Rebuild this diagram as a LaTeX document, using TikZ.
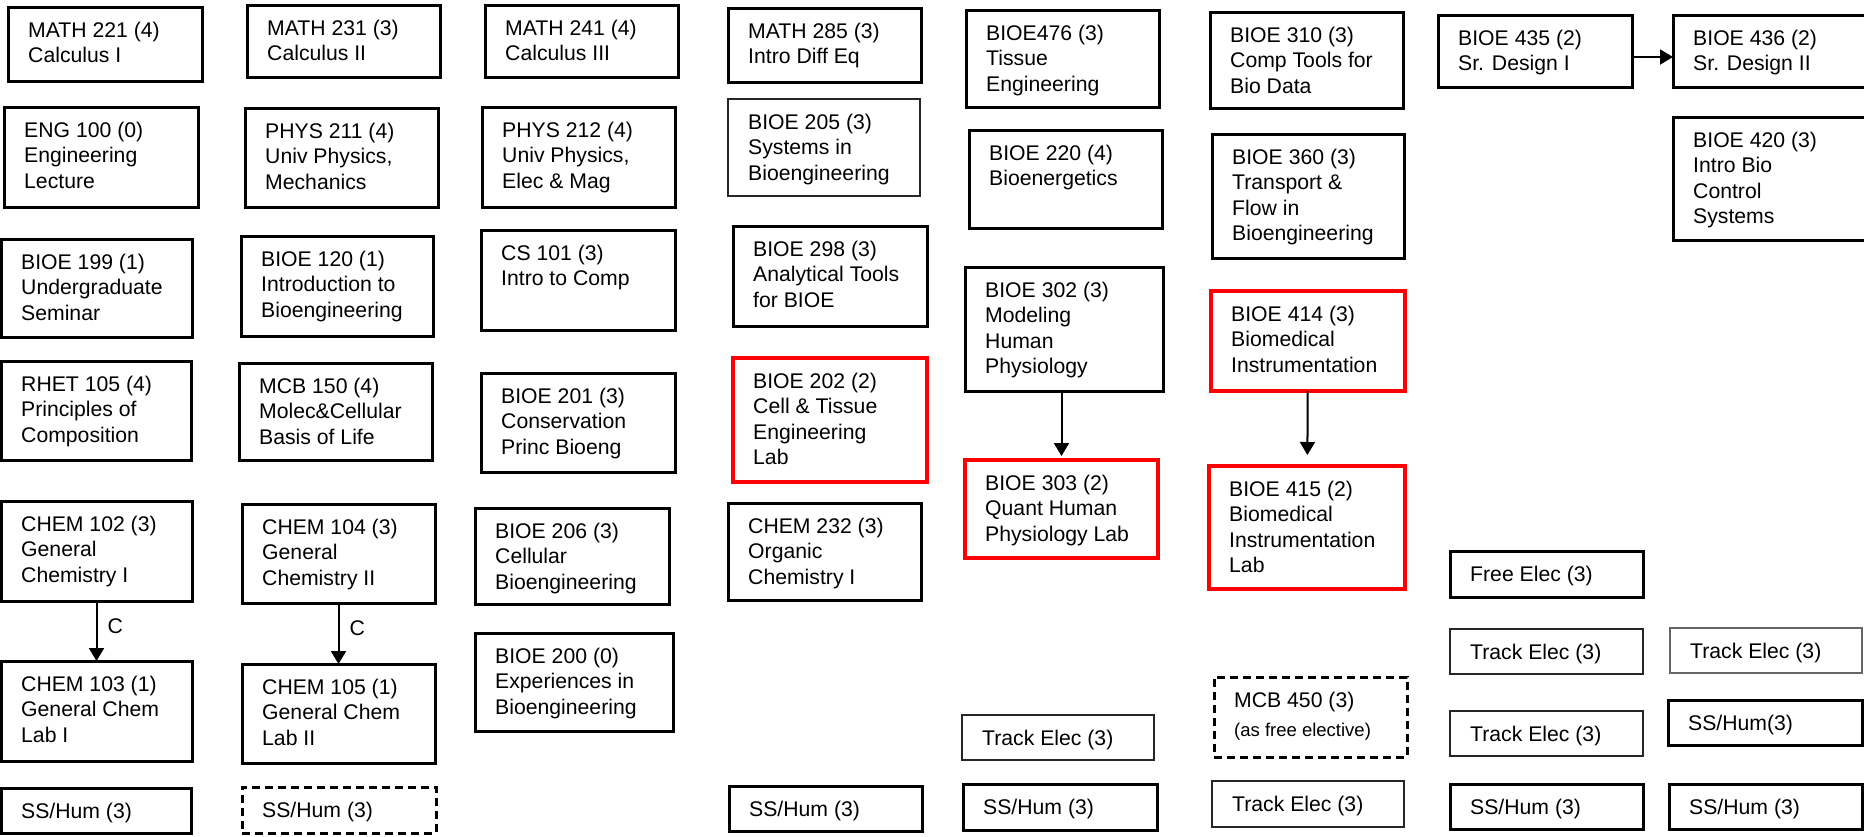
\documentclass[tikz,border=0pt]{standalone}
\usepackage{fontspec}
\setmainfont{Liberation Sans}
\usetikzlibrary{arrows.meta}

\tikzset{
  box/.style 2 args={draw, line width=3pt, anchor=north west, inner sep=0pt, outer sep=0pt,
    minimum width=#1pt, minimum height=#2pt},
  txt/.style={anchor=north west, align=left, text=black, inner xsep=20pt, inner ysep=15pt,
    font=\fontsize{21.2}{25.3}\selectfont},
  lab/.style={draw=red, line width=4pt},
  thin/.style={draw=black!85, line width=1.2pt},
  opt/.style={dash pattern=on 8pt off 5pt},
  arr/.style={-{Triangle[length=13pt,width=15pt]}, line width=2pt}
}

\begin{document}
\begin{tikzpicture}[x=1pt, y=-1pt]
\useasboundingbox (0,0) rectangle (1864,836);
% first row
\node[box={194}{74}, label={[txt]north west:{MATH 221 (4)\\Calculus I}}] (m221) at (8,7) {};
\node[box={193}{72}, label={[txt]north west:{MATH 231 (3)\\Calculus II}}] (m231) at (247,5) {};
\node[box={193}{72}, label={[txt]north west:{MATH 241 (4)\\Calculus III}}] (m241) at (485,5) {};
\node[box={193}{74}, label={[txt]north west:{MATH 285 (3)\\Intro Diff Eq}}] (m285) at (728,8) {};
\node[box={193}{97}, label={[txt]north west:{BIOE476 (3)\\Tissue\\Engineering}}] (b476) at (966,10) {};
\node[box={193}{96}, label={[txt]north west:{BIOE 310 (3)\\Comp Tools for\\Bio Data}}] (b310) at (1210,12) {};
\node[box={194}{72}, label={[txt]north west:{BIOE 435 (2)\\Sr. Design I}}] (b435) at (1438,15) {};
\node[box={193}{72}, label={[txt]north west:{BIOE 436 (2)\\Sr. Design II}}] (b436) at (1673,15) {};
% second row
\node[box={194}{100}, label={[txt]north west:{ENG 100 (0)\\Engineering\\Lecture}}] (e100) at (4,107) {};
\node[box={193}{99}, label={[txt]north west:{PHYS 211 (4)\\Univ Physics,\\Mechanics}}] (p211) at (245,108) {};
\node[box={193}{100}, label={[txt]north west:{PHYS 212 (4)\\Univ Physics,\\Elec \& Mag}}] (p212) at (482,107) {};
\node[box={192}{97}, thin, label={[txt]north west:{BIOE 205 (3)\\Systems in\\Bioengineering}}] (b205) at (728,99) {};
\node[box={193}{98}, label={[txt]north west:{BIOE 220 (4)\\Bioenergetics}}] (b220) at (969,130) {};
\node[box={192}{124}, label={[txt]north west:{BIOE 360 (3)\\Transport \&\\Flow in\\Bioengineering}}] (b360) at (1212,134) {};
\node[box={193}{123}, label={[txt]north west:{BIOE 420 (3)\\Intro Bio\\Control\\Systems}}] (b420) at (1673,117) {};
% third row
\node[box={191}{98}, label={[txt]north west:{BIOE 199 (1)\\Undergraduate\\Seminar}}] (b199) at (1,239) {};
\node[box={192}{100}, label={[txt]north west:{BIOE 120 (1)\\Introduction to\\Bioengineering}}] (b120) at (241,236) {};
\node[box={194}{100}, label={[txt]north west:{CS 101 (3)\\Intro to Comp}}] (cs101) at (481,230) {};
\node[box={194}{100}, label={[txt]north west:{BIOE 298 (3)\\Analytical Tools\\for BIOE}}] (b298) at (733,226) {};
\node[box={198}{124}, label={[txt]north west:{BIOE 302 (3)\\Modeling\\Human\\Physiology}}] (b302) at (965,267) {};
\node[box={194}{100}, lab, label={[txt]north west:{BIOE 414 (3)\\Biomedical\\Instrumentation}}] (b414) at (1211,291) {};
% fourth row
\node[box={190}{99}, label={[txt]north west:{RHET 105 (4)\\Principles of\\Composition}}] (r105) at (1,361) {};
\node[box={193}{97}, label={[txt]north west:{MCB 150 (4)\\Molec\&Cellular\\Basis of Life}}] (mcb150) at (239,363) {};
\node[box={194}{99}, label={[txt]north west:{BIOE 201 (3)\\Conservation\\Princ Bioeng}}] (b201) at (481,373) {};
\node[box={194}{124}, lab, label={[txt]north west:{BIOE 202 (2)\\Cell \& Tissue\\Engineering\\Lab}}] (b202) at (733,358) {};
\node[box={193}{98}, lab, label={[txt]north west:{BIOE 303 (2)\\Quant Human\\Physiology Lab}}] (b303) at (965,460) {};
\node[box={196}{123}, lab, label={[txt]north west:{BIOE 415 (2)\\Biomedical\\Instrumentation\\Lab}}] (b415) at (1209,466) {};
% fifth row
\node[box={191}{100}, label={[txt]north west:{CHEM 102 (3)\\General\\Chemistry I}}] (c102) at (1,501) {};
\node[box={193}{99}, label={[txt]north west:{CHEM 104 (3)\\General\\Chemistry II}}] (c104) at (242,504) {};
\node[box={194}{96}, label={[txt]north west:{BIOE 206 (3)\\Cellular\\Bioengineering}}] (b206) at (475,508) {};
\node[box={193}{97}, label={[txt]north west:{CHEM 232 (3)\\Organic\\Chemistry I}}] (c232) at (728,503) {};
\node[box={193}{46}, label={[txt]north west:{Free Elec (3)}}] (free) at (1450,551) {};
% sixth row
\node[box={191}{100}, label={[txt]north west:{CHEM 103 (1)\\General Chem\\Lab I}}] (c103) at (1,661) {};
\node[box={193}{99}, label={[txt]north west:{CHEM 105 (1)\\General Chem\\Lab II}}] (c105) at (242,664) {};
\node[box={198}{98}, label={[txt]north west:{BIOE 200 (0)\\Experiences in\\Bioengineering}}] (b200) at (475,633) {};
\node[box={193}{45}, thin, label={[txt]north west:{Track Elec (3)}}] (te1) at (1450,629) {};
\node[box={192}{45}, thin, draw=black!60, label={[txt]north west:{Track Elec (3)}}] (te2) at (1670,628) {};
\node[box={193}{80}, opt, label={[txt]north west:{MCB 450 (3)\\[4pt]\fontsize{18.5}{22}\selectfont(as free elective)}}] (mcb450) at (1214,677) {};
\node[box={192}{45}, thin, label={[txt]north west:{Track Elec (3)}}] (te3) at (962,715) {};
\node[box={193}{45}, thin, label={[txt]north west:{Track Elec (3)}}] (te4) at (1450,711) {};
\node[box={194}{45}, label={[txt]north west:{SS/Hum(3)}}] (ss5) at (1668,700) {};
% last row
\node[box={190}{45}, label={[txt]north west:{SS/Hum (3)}}] (ss1) at (1,788) {};
\node[box={194}{46}, opt, label={[txt]north west:{SS/Hum (3)}}] (ss2) at (242,787) {};
\node[box={193}{45}, label={[txt]north west:{SS/Hum (3)}}] (ss3) at (729,786) {};
\node[box={194}{46}, label={[txt]north west:{SS/Hum (3)}}] (ss4) at (963,784) {};
\node[box={192}{46}, thin, label={[txt]north west:{Track Elec (3)}}] (te5) at (1212,781) {};
\node[box={193}{45}, label={[txt]north west:{SS/Hum (3)}}] (ss6) at (1450,784) {};
\node[box={193}{45}, label={[txt]north west:{SS/Hum (3)}}] (ss7) at (1669,784) {};

% prerequisites
\draw[arr] (c102) -- node[right, pos=.42, inner xsep=10pt, font=\fontsize{21.2}{25}\selectfont] (cc1) {C} (c103);
\draw[arr] (c104) -- node[right, pos=.42, inner xsep=10pt, font=\fontsize{21.2}{25}\selectfont] (cc2) {C} (c105);
\draw[arr, shorten >=4pt] (b302.south -| b303.north) -- (b303.north);
\draw[arr, shorten >=11pt] (b414) -- (b415);
\draw[arr] ([yshift=-6pt]b435.east) -- ([yshift=-6pt]b436.west);
\end{tikzpicture}
\end{document}
